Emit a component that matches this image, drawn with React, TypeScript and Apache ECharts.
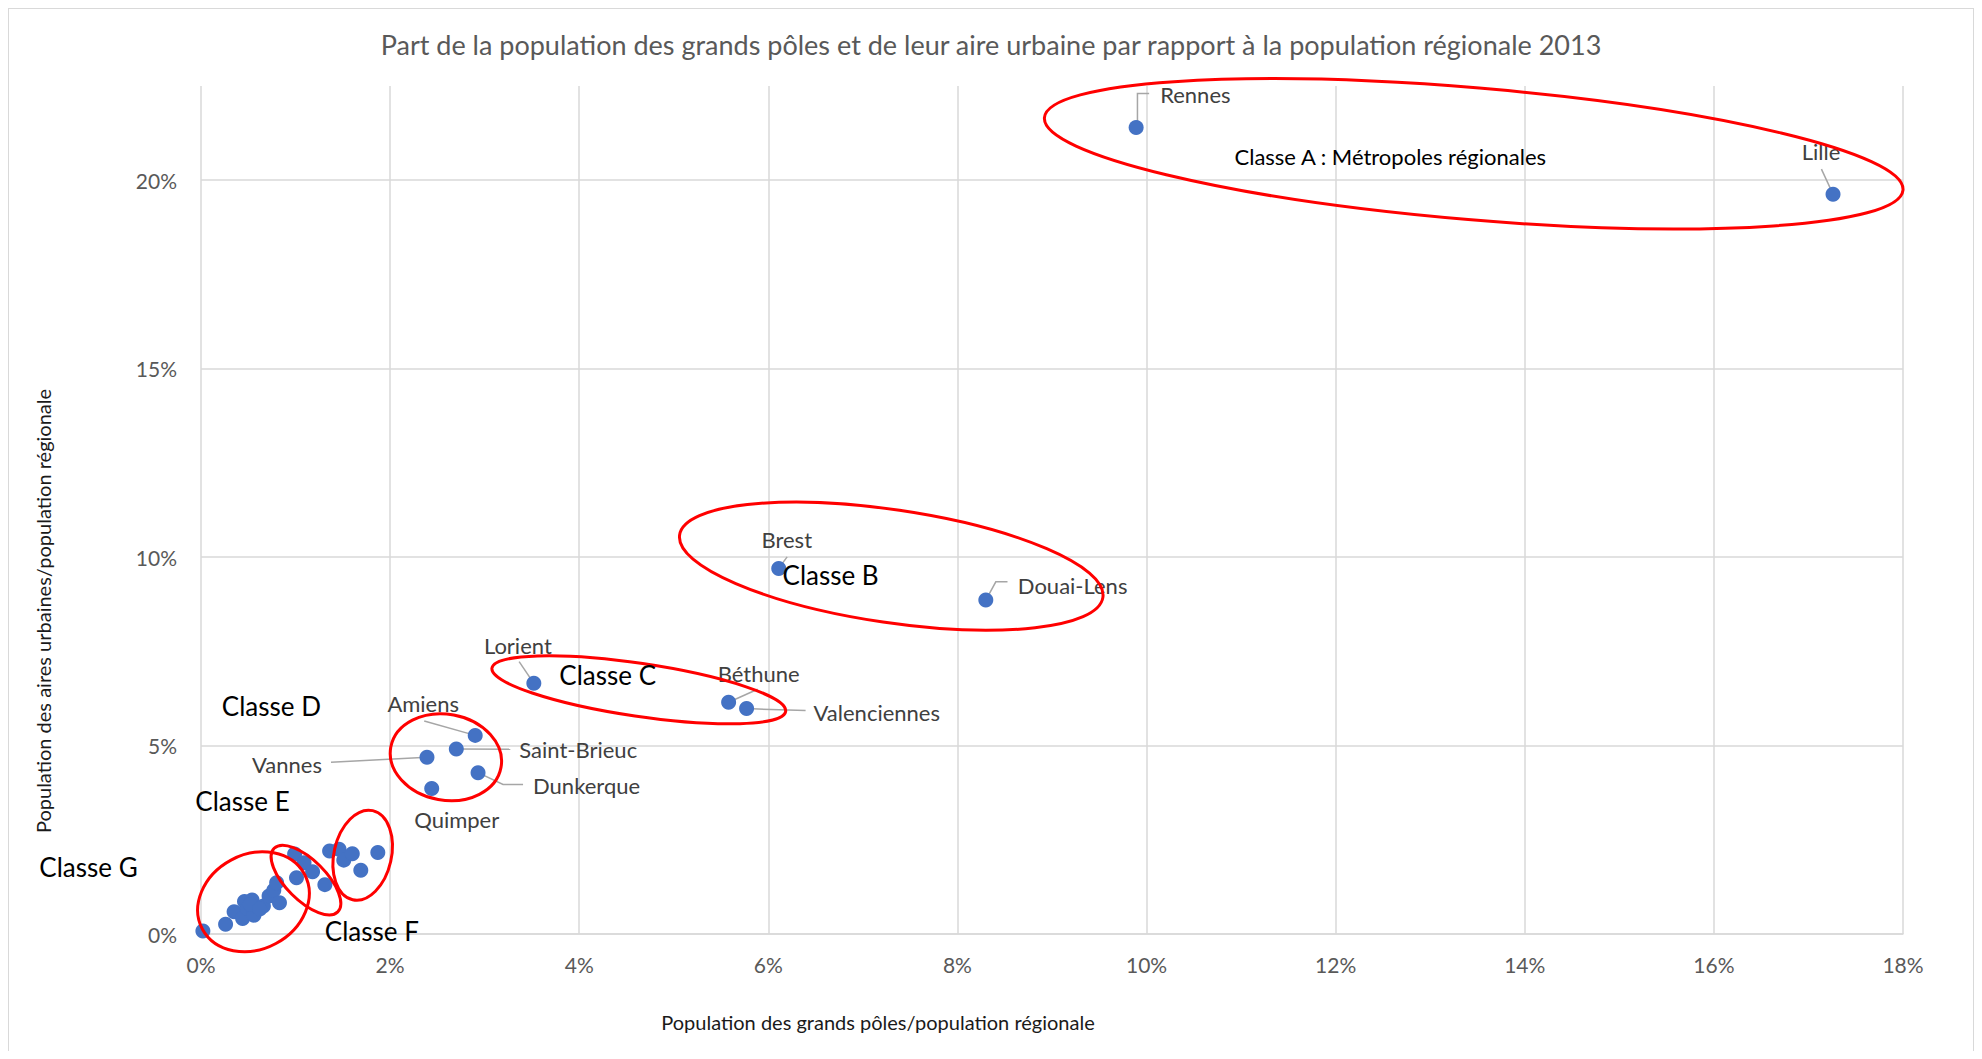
import React, { useEffect, useRef } from "react";
import * as echarts from "echarts";

// ---------- Texts ----------
const TITLE =
  "Part de la population des grands pôles et de leur aire urbaine par rapport à la population régionale 2013";
const X_TITLE = "Population des grands pôles/population régionale";
const Y_TITLE = "Population des aires urbaines/population régionale";

// ---------- Data (values in %) ----------
const villes = [
  "Rennes",
  "Lille",
  "Brest",
  "Douai-Lens",
  "Lorient",
  "Béthune",
  "Valenciennes",
  "Amiens",
  "Saint-Brieuc",
  "Vannes",
  "Dunkerque",
  "Quimper",
];
const polesVilles = [9.89, 17.26, 6.11, 8.3, 3.52, 5.58, 5.77, 2.9, 2.7, 2.39, 2.93, 2.44];
const airesVilles = [21.4, 19.63, 9.7, 8.86, 6.65, 6.15, 5.98, 5.27, 4.91, 4.69, 4.28, 3.86];

// Unlabelled poles (classes E, F, G)
const polesAutres = [
  0.02, 0.26, 0.35, 0.44, 0.46, 0.54, 0.49, 0.56, 0.66, 0.72, 0.77, 0.8, 0.83, 0.52, 0.62,
  0.99, 1.09, 1.18, 1.01, 1.31,
  1.36, 1.46, 1.51, 1.6, 1.69, 1.87,
];
const airesAutres = [
  0.08, 0.26, 0.59, 0.41, 0.86, 0.9, 0.68, 0.5, 0.74, 1.01, 1.16, 1.36, 0.83, 0.78, 0.66,
  2.12, 1.89, 1.65, 1.49, 1.31,
  2.2, 2.25, 1.96, 2.13, 1.69, 2.16,
];

// Axis ticks
const xMin = 0;
const xMax = 18;
const xStep = 2;
const yMin = 0;
const yMax = 22.5;
const yStep = 5;

// Class annotations (text anchor and ellipse centre, in data units)
const classes = [
  "Classe A : Métropoles régionales",
  "Classe B",
  "Classe C",
  "Classe D",
  "Classe E",
  "Classe F",
  "Classe G",
];
const classeTexteX = [10.93, 6.15, 3.79, 0.22, -0.06, 1.31, -1.71];
const classeTexteY = [20.63, 9.52, 6.88, 6.04, 3.53, 0.08, 1.77];
const classeCentreX = [13.46, 7.3, 4.63, 2.59, 1.71, 1.11, 0.555];
const classeCentreY = [20.7, 9.76, 6.48, 4.69, 2.09, 1.43, 0.855];

// ---------- Styles ----------
const FONT = "Lato";
const ELLIPSE_SHAPES = [
  { rx: 431, ry: 66, rot: -4.84 },
  { rx: 214, ry: 56.5, rot: -8.4 },
  { rx: 148.5, ry: 26.5, rot: -8.4 },
  { rx: 56, ry: 43, rot: -10.4 },
  { rx: 28.7, ry: 45.7, rot: -12.7 },
  { rx: 45, ry: 20, rot: -45 },
  { rx: 58, ry: 47.4, rot: 28.3 },
];
const CLASS_FONT = [22, 26, 26, 26, 26, 26, 26];

// Label placement (pixel offsets from the marker centre) and leader-line bends
const LABEL_PLACEMENT: Record<string, { dx: number; dy: number; align: string }> = {
  Rennes: { dx: 24, dy: -33, align: "left" },
  Lille: { dx: -12, dy: -43, align: "center" },
  Brest: { dx: 8, dy: -29, align: "center" },
  "Douai-Lens": { dx: 32, dy: -15, align: "left" },
  Lorient: { dx: -16, dy: -38, align: "center" },
  "Béthune": { dx: 30, dy: -29, align: "center" },
  Valenciennes: { dx: 67, dy: 4, align: "left" },
  Amiens: { dx: -52, dy: -32, align: "center" },
  "Saint-Brieuc": { dx: 63, dy: 1, align: "left" },
  Vannes: { dx: -105, dy: 7, align: "right" },
  Dunkerque: { dx: 55, dy: 13, align: "left" },
  Quimper: { dx: 25, dy: 31, align: "center" },
};
const LEADERS: Record<string, number[][]> = {
  Rennes: [[1.3, 0], [1.3, -34], [13, -34]],
  Lille: [[0, 0], [-11.6, -25]],
  Brest: [[0, 0], [8.4, -11.6]],
  "Douai-Lens": [[0, 0], [10, -18.3], [21.7, -18.3]],
  Lorient: [[0, 0], [-14.7, -21.8]],
  "Béthune": [[0, 0], [29, -13]],
  Valenciennes: [[0, 0], [59, 2]],
  Amiens: [[0, 0], [-51, -14.3]],
  "Saint-Brieuc": [[0, 0], [54, 0.3]],
  Vannes: [[0, 0], [-96, 5]],
  Dunkerque: [[0, 0], [25, 11.7], [45, 11.7]],
};

const pct = (v: number) => `${Math.round(v)}%`;

export default function App() {
  const ref = useRef<HTMLDivElement>(null);

  useEffect(() => {
    if (!ref.current) return;
    const chart = echarts.init(ref.current, undefined, { renderer: "svg" });

    const option: any = {
      animation: false,
      backgroundColor: "#ffffff",
      title: {
        text: TITLE,
        left: "center",
        top: 17,
        textStyle: { fontFamily: FONT, fontSize: 27, fontWeight: "normal", color: "#595959" },
      },
      grid: { left: 192, right: 70, top: 77, bottom: 117, containLabel: false },
      xAxis: {
        type: "value",
        min: xMin,
        max: xMax,
        interval: xStep,
        axisLine: { show: true, lineStyle: { color: "#d9d9d9", width: 1.5 } },
        axisTick: { show: false },
        axisLabel: { formatter: pct, color: "#595959", fontFamily: FONT, fontSize: 21, margin: 20 },
        splitLine: { show: true, lineStyle: { color: "#d9d9d9", width: 1.5 } },
      },
      yAxis: {
        type: "value",
        min: yMin,
        max: yMax,
        interval: yStep,
        axisLine: { show: false },
        axisTick: { show: false },
        axisLabel: {
          formatter: pct,
          color: "#595959",
          fontFamily: FONT,
          fontSize: 21,
          margin: 24,
          showMaxLabel: false,
        },
        splitLine: { show: true, showMaxLine: false, lineStyle: { color: "#d9d9d9", width: 1.5 } },
      },
      series: [
        {
          type: "scatter",
          name: "Autres pôles",
          symbolSize: 15,
          itemStyle: { color: "#4472C4", opacity: 1 },
          emphasis: { disabled: true },
          data: polesAutres.map((x, i) => [x, airesAutres[i]]),
          z: 3,
        },
        {
          type: "scatter",
          name: "Grands pôles",
          symbolSize: 15,
          itemStyle: { color: "#4472C4", opacity: 1 },
          emphasis: { disabled: true },
          data: villes.map((n, i) => ({ name: n, value: [polesVilles[i], airesVilles[i]] })),
          label: {
            show: true,
            formatter: "{b}",
            fontFamily: FONT,
            fontSize: 22,
            color: "#404040",
          },
          labelLayout: (p: any) => {
            const o = LABEL_PLACEMENT[villes[p.dataIndex]];
            const cx = p.rect.x + p.rect.width / 2;
            const cy = p.rect.y + p.rect.height / 2;
            return { x: cx + o.dx, y: cy + o.dy, align: o.align, verticalAlign: "middle" };
          },
          z: 4,
        },
      ],
    };

    chart.setOption(option);

    const toPx = (x: number, y: number) => chart.convertToPixel({ gridIndex: 0 }, [x, y]) as number[];

    const graphics: any[] = [];

    // Leader lines (drawn under the markers)
    villes.forEach((n, i) => {
      const pts = LEADERS[n];
      if (!pts) return;
      const [px, py] = toPx(polesVilles[i], airesVilles[i]);
      graphics.push({
        type: "polyline",
        shape: { points: pts.map(([dx, dy]) => [px + dx, py + dy]) },
        style: { stroke: "#a6a6a6", lineWidth: 1.5, fill: "none" },
        z: 1,
        silent: true,
      });
    });

    classes.forEach((c, i) => {
      const [ex, ey] = toPx(classeCentreX[i], classeCentreY[i]);
      const s = ELLIPSE_SHAPES[i];
      graphics.push({
        type: "ellipse",
        x: ex,
        y: ey,
        rotation: (s.rot * Math.PI) / 180,
        shape: { cx: 0, cy: 0, rx: s.rx, ry: s.ry },
        style: { fill: "none", stroke: "#ff0000", lineWidth: 3 },
        z: 10,
        silent: true,
      });
      const [tx, ty] = toPx(classeTexteX[i], classeTexteY[i]);
      graphics.push({
        type: "text",
        x: tx,
        y: ty,
        style: {
          text: c,
          fontFamily: FONT,
          fontSize: CLASS_FONT[i],
          fill: "#000000",
          textAlign: "left",
          textVerticalAlign: "middle",
        },
        z: 11,
        silent: true,
      });
    });

    // Axis titles
    graphics.push({
      type: "text",
      x: 869,
      y: 1013,
      style: {
        text: X_TITLE,
        fontFamily: FONT,
        fontSize: 20,
        fill: "#1a1a1a",
        textAlign: "center",
        textVerticalAlign: "middle",
      },
      z: 11,
    });
    graphics.push({
      type: "text",
      x: 34,
      y: 602,
      rotation: Math.PI / 2,
      style: {
        text: Y_TITLE,
        fontFamily: FONT,
        fontSize: 20,
        fill: "#1a1a1a",
        textAlign: "center",
        textVerticalAlign: "middle",
      },
      z: 11,
    });

    chart.setOption({ graphic: graphics });

    return () => chart.dispose();
  }, []);

  return (
    <div
      ref={ref}
      style={{
        width: 1966,
        height: 1043,
        boxSizing: "border-box",
        borderTop: "1px solid #d9d9d9",
        borderLeft: "1px solid #d9d9d9",
        borderRight: "1px solid #d9d9d9",
        background: "#ffffff",
      }}
    />
  );
}
